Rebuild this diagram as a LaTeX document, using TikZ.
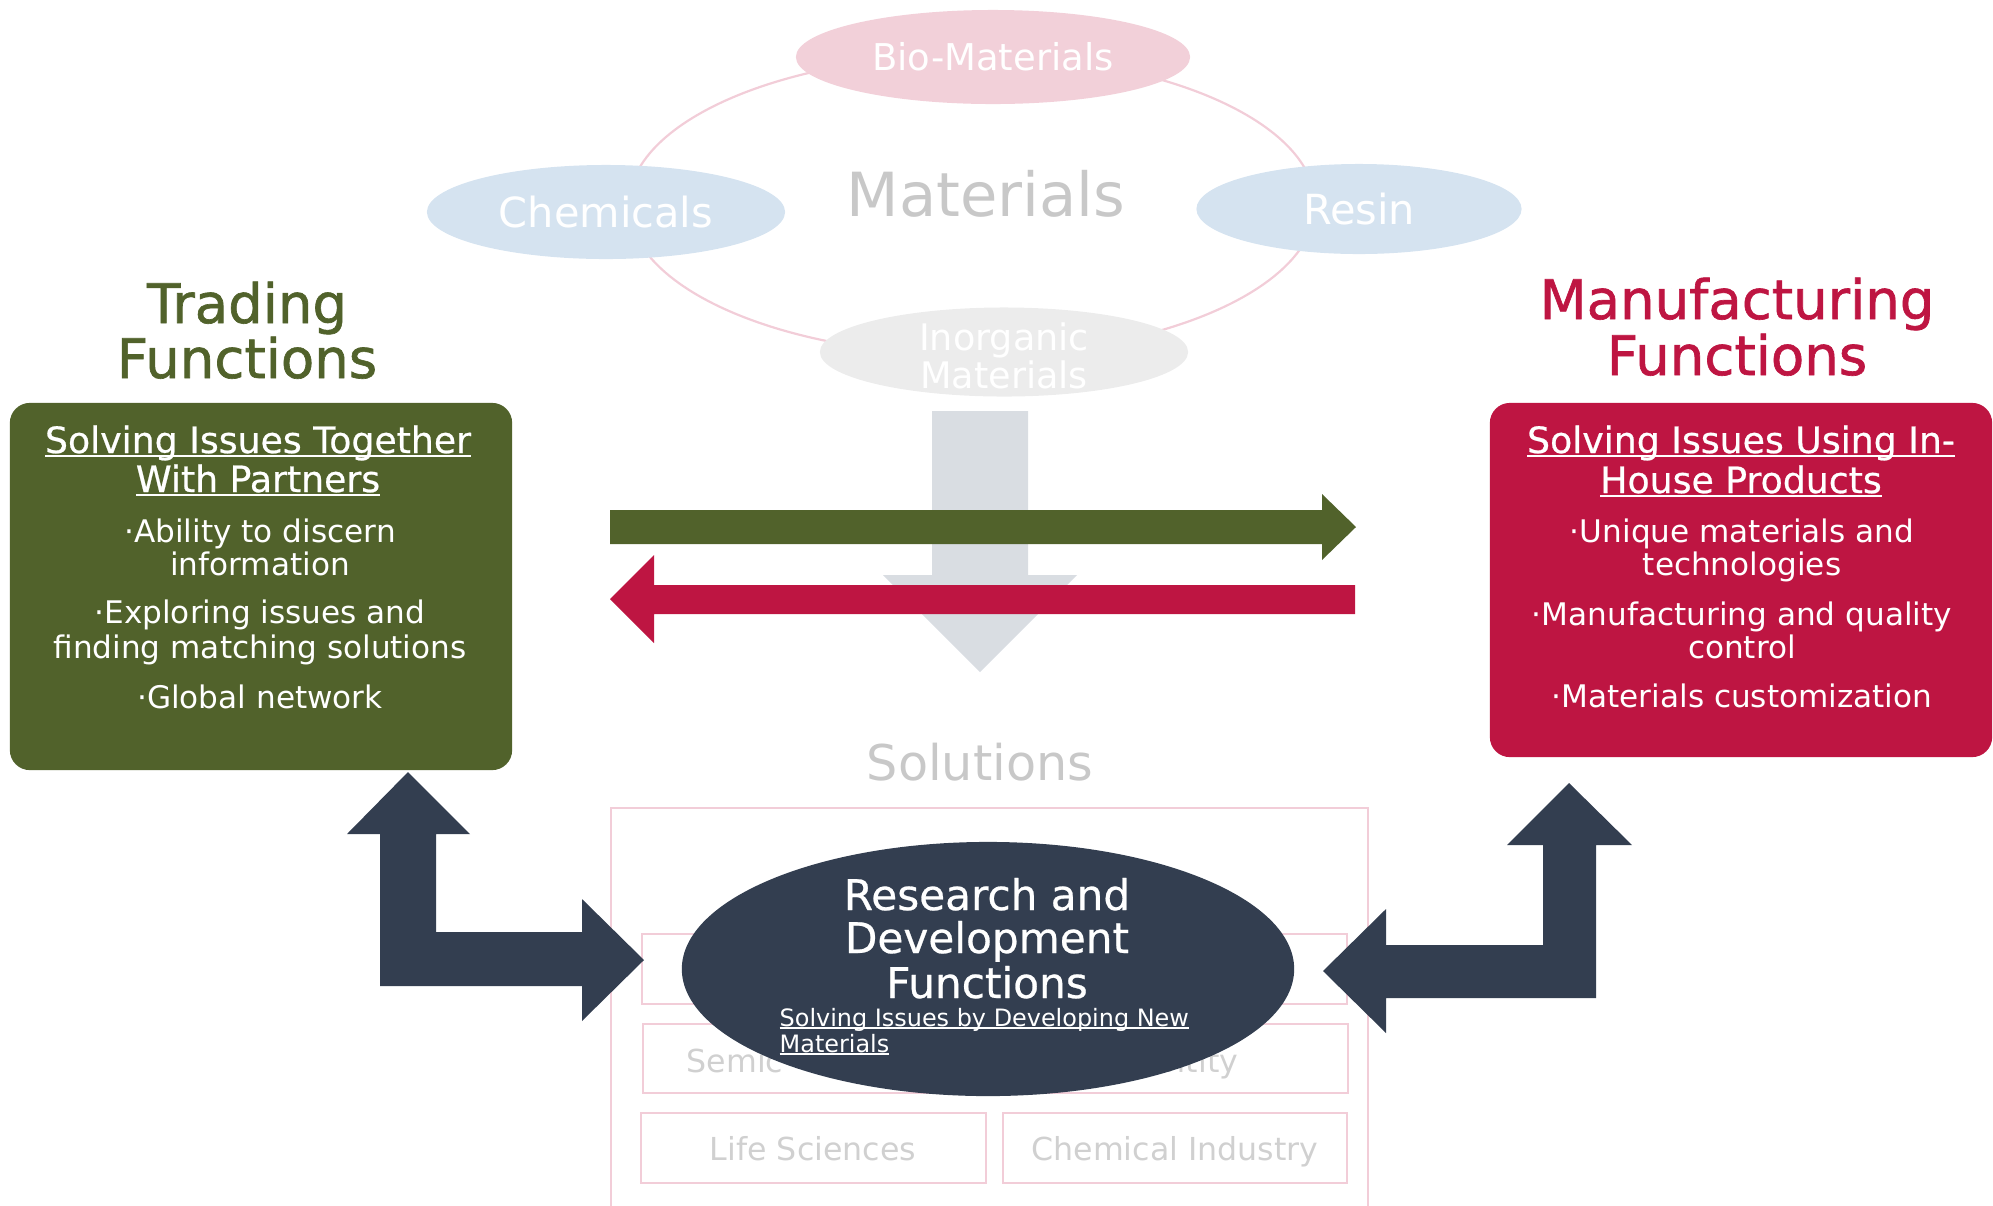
\documentclass[tikz,border=0pt]{standalone}
\usepackage{fontspec}
\setmainfont{DejaVu Sans}
\newfontfamily\medfont{DejaVu Sans}[FakeBold=0.6]
\newfontfamily\titlefont{DejaVu Sans}[FakeBold=1.2]
\usetikzlibrary{arrows.meta, shapes.geometric, positioning}

\definecolor{tradeGreen}{RGB}{81,98,43}
\definecolor{makeRed}{RGB}{190,21,66}
\definecolor{rdNavy}{RGB}{51,62,80}
\definecolor{bioPink}{RGB}{242,208,217}
\definecolor{matBlue}{RGB}{213,227,240}
\definecolor{inoGray}{RGB}{236,236,236}
\definecolor{flowGray}{RGB}{217,221,226}
\definecolor{softGray}{RGB}{200,200,200}
\definecolor{fieldGray}{RGB}{208,208,208}
\definecolor{linePink}{RGB}{242,205,216}

% underline sitting close to the baseline
\newcommand{\ulined}[1]{\setbox0\hbox{#1}\rlap{\rule[-0.11em]{\wd0}{0.06em}}\box0}

\tikzset{
  matel/.style={ellipse, inner sep=0pt, text=white, align=center},
  title/.style={anchor=base, font=\titlefont\fontsize{15.5}{16}\selectfont},
  panel/.style={rounded corners=0.2cm, inner sep=0pt},
  head/.style={anchor=base, text=white, font=\medfont\fontsize{10.3}{11}\selectfont},
  bullet/.style={anchor=base, text=white, font=\fontsize{8.85}{9.5}\selectfont},
  rdtitle/.style={anchor=base, text=white, font=\medfont\fontsize{12}{12.5}\selectfont},
  rdsub/.style={anchor=base west, inner sep=0pt, text=white, font=\fontsize{6.8}{7.5}\selectfont},
  fieldbox/.style={draw=linePink, line width=0.025cm},
  fieldtext/.style={inner sep=0pt, text=fieldGray, font=\fontsize{9}{10}\selectfont},
}

\begin{document}
\begin{tikzpicture}[x=0.01cm, y=-0.01cm]
\useasboundingbox (0,0) rectangle (1993,1205);

% materials ring
\draw[linePink, line width=0.022cm] (972,205) ellipse [x radius=3.43cm, y radius=1.5cm];
\node[font=\fontsize{17.3}{18}\selectfont, text=softGray, anchor=base] (matlabel) at (986,216) {Materials};

\node[matel, fill=bioPink, minimum width=3.94cm, minimum height=0.94cm,
      font=\fontsize{10.5}{12}\selectfont] (bio) at (993,57) {Bio-Materials};
\node[matel, fill=matBlue, minimum width=3.58cm, minimum height=0.94cm,
      font=\fontsize{11.8}{13}\selectfont] (chem) at (606,212) {Chemicals};
\node[matel, fill=matBlue, minimum width=3.25cm, minimum height=0.9cm,
      font=\fontsize{11.8}{13}\selectfont] (resin) at (1359,209) {Resin};
\node[matel, fill=inoGray, minimum width=3.68cm, minimum height=0.89cm] (inorg) at (1004,352) {};
\node[align=center, text=white, inner sep=0pt, font=\fontsize{10.4}{10.8}\selectfont] (inorgtxt) at (1004,356) {Inorganic\\Materials};

% flow down to solutions
\fill[flowGray] (932,411) -- (1028,411) -- (1028,575) -- (1077,575) -- (980,672)
  -- (883,575) -- (932,575) -- cycle;

% exchange arrows
\fill[tradeGreen] (610,510) -- (1322,510) -- (1322,494) -- (1356,527) -- (1322,560)
  -- (1322,544) -- (610,544) -- cycle;
\fill[makeRed] (1355,585) -- (654,585) -- (654,555) -- (610,599) -- (654,643)
  -- (654,614) -- (1355,614) -- cycle;

% trading side
\node[title, text=tradeGreen] (tradet1) at (247,323) {Trading};
\node[title, text=tradeGreen] (tradet2) at (247,378) {Functions};
\node[panel, fill=tradeGreen, minimum width=5.02cm, minimum height=3.67cm] (tradebox) at (261,586.5) {};
\foreach \yy/\txt in {453/Solving Issues Together, 492/With Partners}
  \node[head] (th\yy) at (258,\yy) {\ulined{\txt}};
\foreach \yy/\txt in {542/·Ability to discern, 575/information, 623/·Exploring issues and,
                      658/finding matching solutions, 708/·Global network}
  \node[bullet] (tb\yy) at (260,\yy) {\txt};

% manufacturing side
\node[title, text=makeRed] (maket1) at (1737,319) {Manufacturing};
\node[title, text=makeRed] (maket2) at (1737,375) {Functions};
\node[panel, fill=makeRed, minimum width=5.02cm, minimum height=3.54cm] (makebox) at (1741,580) {};
\foreach \yy/\txt in {453/Solving Issues Using In-, 493/House Products}
  \node[head] (mh\yy) at (1741,\yy) {\ulined{\txt}};
\foreach \yy/\txt in {542/·Unique materials and, 575/technologies, 625/·Manufacturing and quality,
                      658/control, 707/·Materials customization}
  \node[bullet] (mb\yy) at (1742,\yy) {\txt};

% solutions
\node[font=\fontsize{14}{15}\selectfont, text=softGray, anchor=base] (sol) at (980,780) {Solutions};
\draw[fieldbox] (611,808) rectangle (1368,1212);
\draw[fieldbox] (642,934) rectangle (1347,1004);
\draw[fieldbox] (643,1024) rectangle (1348,1093);
\draw[fieldbox] (641,1113) rectangle (986,1183);
\draw[fieldbox] (1003,1113) rectangle (1347,1183);
\node[fieldtext, anchor=base west] (semic) at (686,1072) {Semic};
\node[fieldtext, anchor=base east] (ntity) at (1239,1072) {ntity};
\node[fieldtext, anchor=base] (lifesci) at (813,1160) {Life Sciences};
\node[fieldtext, anchor=base] (chemind) at (1175,1160) {Chemical Industry};

% research and development
\node[ellipse, fill=rdNavy, minimum width=6.12cm, minimum height=2.54cm] (rd) at (988,969) {};
\foreach \yy/\txt in {910/Research and, 953/Development, 998/Functions}
  \node[rdtitle] (rd\yy) at (987,\yy) {\txt};
\node[rdsub] (rdsub1) at (779,1026) {\ulined{Solving Issues by Developing New}};
\node[rdsub] (rdsub2) at (779,1052) {\ulined{Materials}};

% links between the functions
\fill[rdNavy] (408,772) -- (470,834) -- (436,834) -- (436,932) -- (582,932) -- (582,899)
  -- (644,960) -- (582,1021) -- (582,986) -- (380,986) -- (380,834) -- (347,834) -- cycle;
\fill[rdNavy] (1569,783) -- (1632,845) -- (1596,845) -- (1596,998) -- (1386,998) -- (1386,1033)
  -- (1323,971) -- (1386,909) -- (1386,945) -- (1543,945) -- (1543,845) -- (1507,845) -- cycle;

\end{tikzpicture}
\end{document}
